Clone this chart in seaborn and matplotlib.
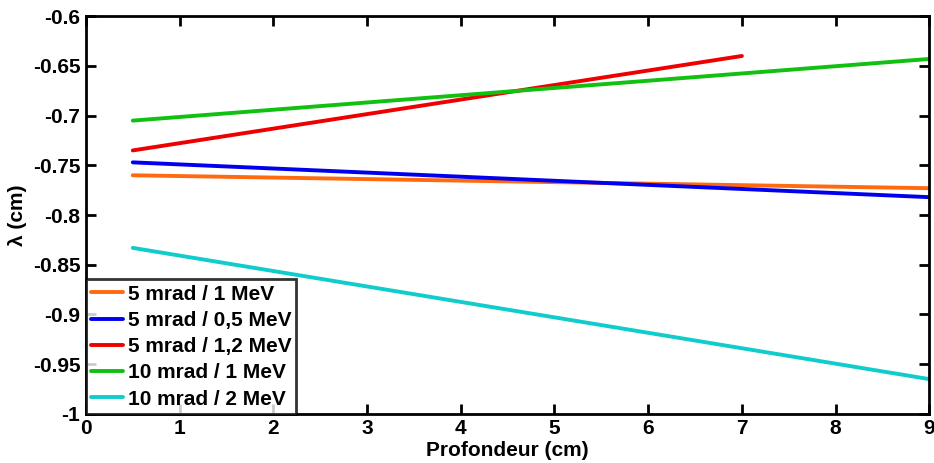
import pandas as pd
import matplotlib.pyplot as plt
import seaborn as sns

# end points of each fitted line: depth (cm) and lambda (cm)
labels = ['5 mrad / 1 MeV', '5 mrad / 0,5 MeV', '5 mrad / 1,2 MeV',
          '10 mrad / 1 MeV', '10 mrad / 2 MeV']
x_start = [0.5, 0.5, 0.5, 0.5, 0.5]
x_end = [9, 9, 7, 9, 9]
y_start = [-0.760, -0.747, -0.735, -0.705, -0.833]
y_end = [-0.773, -0.782, -0.640, -0.643, -0.965]
colors = ['#ff6a10', '#0000ee', '#ee0000', '#11c011', '#11cccc']

rows = []
for lab, x0, x1, y0, y1 in zip(labels, x_start, x_end, y_start, y_end):
    rows.append({'depth': x0, 'lam': y0, 'serie': lab})
    rows.append({'depth': x1, 'lam': y1, 'serie': lab})
df = pd.DataFrame(rows)

sns.set_style('ticks')
plt.rcParams['font.family'] = ['Liberation Sans', 'DejaVu Sans']
plt.rcParams['font.weight'] = 'bold'
plt.rcParams['axes.labelweight'] = 'bold'
plt.rcParams['text.color'] = 'black'
plt.rcParams['axes.labelcolor'] = 'black'
plt.rcParams['xtick.color'] = 'black'
plt.rcParams['ytick.color'] = 'black'

fs = 15
fig = plt.figure(figsize=(9.34, 4.63), dpi=100)
ax = fig.add_axes([0.092, 0.106, 0.903, 0.859])

sns.lineplot(data=df, x='depth', y='lam', hue='serie', hue_order=labels,
             palette=colors, linewidth=2.8, ax=ax, estimator=None, sort=False)

ax.set_xlim(0, 9)
ax.set_ylim(-1, -0.6)
ax.set_xticks(range(10))
yt = [-1, -0.95, -0.9, -0.85, -0.8, -0.75, -0.7, -0.65, -0.6]
ax.set_yticks(yt)
ax.set_yticklabels(['-1', '-0.95', '-0.9', '-0.85', '-0.8', '-0.75', '-0.7', '-0.65', '-0.6'])
ax.tick_params(direction='in', length=7, width=2, labelsize=fs, top=True, right=True,
               pad=4, colors='black')
for lbl in ax.get_xticklabels() + ax.get_yticklabels():
    lbl.set_fontweight('bold')
for sp in ax.spines.values():
    sp.set_linewidth(2)
    sp.set_color('black')

ax.set_xlabel('Profondeur (cm)', fontsize=fs, fontweight='bold', labelpad=2, color='black')
ax.set_ylabel('λ (cm)', fontsize=fs, fontweight='bold', labelpad=4, color='black')

leg = ax.legend(loc='lower left', fontsize=fs, frameon=True, fancybox=False,
                borderaxespad=0, handlelength=1.55, handletextpad=0.2,
                labelspacing=0.35, borderpad=0.25)
leg.get_frame().set_edgecolor('black')
leg.get_frame().set_linewidth(2)
for t in leg.get_texts():
    t.set_fontweight('bold')
    t.set_color('black')

fig.savefig('out.png', dpi=100)
